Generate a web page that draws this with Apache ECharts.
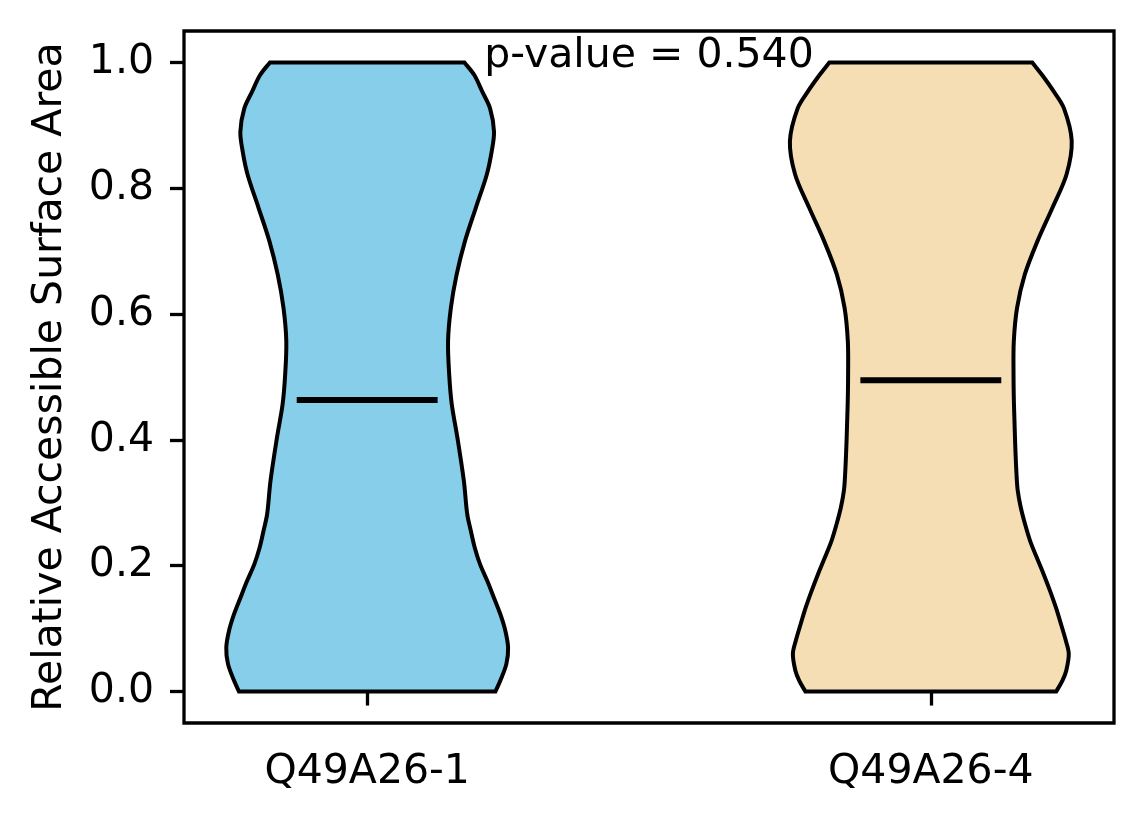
<!DOCTYPE html>
<html lang="en">
<head>
<meta charset="UTF-8">
<title>Relative Accessible Surface Area</title>
<script src="https://cdn.jsdelivr.net/npm/echarts@6.0.0/dist/echarts.min.js"></script>
<style>
    html, body { margin: 0; background: #fff; }
    #main { width: 1144px; height: 824px; }
</style>
</head>
<body>
<div id="main"></div>
<script>
// groups on the x axis
var categories = ['Q49A26-1', 'Q49A26-4'];
var positions = [1, 2];
var medians = [0.4635, 0.495];
var pValue = 0.540;
var yTicks = [0, 0.2, 0.4, 0.6, 0.8, 1.0];

// violin outlines: y value and relative density (1 = widest)
var leftY = [0.0, 0.0175, 0.044, 0.070, 0.097, 0.123, 0.150, 0.176, 0.203, 0.229, 0.256, 0.282, 0.335,
    0.404, 0.457, 0.504, 0.557, 0.610, 0.663, 0.716, 0.769, 0.822, 0.859, 0.890, 0.927, 0.954, 0.980, 1.0];
var leftDensity = [0.91, 0.945, 0.988, 1.0, 0.98, 0.945, 0.898, 0.852, 0.80, 0.763, 0.735, 0.71, 0.686,
    0.64, 0.60, 0.582, 0.574, 0.594, 0.635, 0.694, 0.771, 0.849, 0.884, 0.90, 0.872, 0.816, 0.76, 0.69];
var rightY = [0.0, 0.0175, 0.033, 0.06, 0.081, 0.107, 0.134, 0.160, 0.187, 0.213, 0.240, 0.266, 0.293,
    0.319, 0.346, 0.398, 0.457, 0.504, 0.557, 0.610, 0.663, 0.716, 0.769, 0.822, 0.875, 0.927, 0.954, 0.980, 1.0];
var rightDensity = [0.89, 0.934, 0.961, 0.979, 0.958, 0.924, 0.887, 0.846, 0.80, 0.752, 0.704, 0.669, 0.638,
    0.617, 0.608, 0.598, 0.59, 0.587, 0.589, 0.612, 0.667, 0.757, 0.863, 0.963, 1.0, 0.945, 0.872, 0.79, 0.72];

var violins = [{y: leftY, d: leftDensity}, {y: rightY, d: rightDensity}];
var fills = ['#87CEEB', '#F5DEB3'];
var halfWidth = 0.25;   // widths = 0.5
var FONT = 'DejaVu Sans';

// smooth curve through pixel points, x treated as a function of y (cubic hermite -> bezier)
function curveThrough(pts) {
    var n = pts.length, m = [], s = '';
    for (var i = 0; i < n; i++) {
        var a = pts[Math.max(i - 1, 0)], b = pts[Math.min(i + 1, n - 1)];
        m.push((b[0] - a[0]) / (b[1] - a[1]));
    }
    for (var j = 0; j < n - 1; j++) {
        var h = (pts[j + 1][1] - pts[j][1]) / 3;
        s += ' C' + (pts[j][0] + m[j] * h) + ',' + (pts[j][1] + h) + ' ' +
            (pts[j + 1][0] - m[j + 1] * h) + ',' + (pts[j + 1][1] - h) + ' ' +
            pts[j + 1][0] + ',' + pts[j + 1][1];
    }
    return s;
}

function renderViolin(params, api) {
    var pos = api.value(0);
    var i = api.value(2);
    var v = violins[i];
    var leftPts = [], rightPts = [];
    for (var k = 0; k < v.y.length; k++) {
        leftPts.push(api.coord([pos - v.d[k] * halfWidth, v.y[k]]));
        rightPts.push(api.coord([pos + v.d[k] * halfWidth, v.y[k]]));
    }
    var n = leftPts.length - 1;
    var rightDown = rightPts.slice().reverse();
    var d = 'M' + leftPts[0][0] + ',' + leftPts[0][1] + curveThrough(leftPts) +
        ' L' + rightDown[0][0] + ',' + rightDown[0][1] + curveThrough(rightDown) + ' Z';
    var ml = api.coord([pos - halfWidth / 2, medians[i]]);
    var mr = api.coord([pos + halfWidth / 2, medians[i]]);
    return {
        type: 'group',
        children: [
            {type: 'path', shape: {pathData: d},
                style: {fill: fills[i], stroke: '#000', lineWidth: 4, lineJoin: 'miter'}},
            {type: 'line', shape: {x1: ml[0], y1: ml[1], x2: mr[0], y2: mr[1]},
                style: {stroke: '#000', lineWidth: 6}}
        ]
    };
}

var chart = echarts.init(document.getElementById('main'));
chart.setOption({
    animation: false,
    backgroundColor: '#fff',
    grid: {
        left: 184, right: 30, top: 31, bottom: 101,
        show: true, borderColor: '#000', borderWidth: 3.3,
        outerBoundsMode: 'none'
    },
    xAxis: {
        type: 'value', min: 0.675, max: 2.325,
        axisLine: {show: false},
        splitLine: {show: false},
        axisTick: {customValues: positions, length: 14, lineStyle: {color: '#000', width: 3.3}},
        axisLabel: {
            customValues: positions,
            formatter: function (v) { return categories[positions.indexOf(v)]; },
            fontSize: 41, fontFamily: FONT, color: '#000', margin: 29
        }
    },
    yAxis: {
        type: 'value', min: -0.05, max: 1.05,
        name: 'Relative Accessible Surface Area',
        nameLocation: 'middle', nameGap: 113,
        nameTextStyle: {fontSize: 41, fontFamily: FONT, color: '#000'},
        axisLine: {show: false},
        splitLine: {show: false},
        axisTick: {customValues: yTicks, length: 14, lineStyle: {color: '#000', width: 3.3}},
        axisLabel: {
            customValues: yTicks,
            formatter: function (v) { return v.toFixed(1); },
            fontSize: 41, fontFamily: FONT, color: '#000', margin: 30,
            padding: [6, 0, 0, 0]
        }
    },
    series: [{
        type: 'custom',
        renderItem: renderViolin,
        encode: {x: 0, y: 1},
        data: positions.map(function (p, i) { return [p, medians[i], i]; })
    }, {
        type: 'custom',
        z: 5,
        renderItem: function (params, api) {
            var pt = api.coord([api.value(0), api.value(1)]);
            return {
                type: 'text', x: pt[0], y: pt[1] - 6,
                style: {
                    text: 'p-value = ' + pValue.toFixed(3),
                    fontSize: 41, fontFamily: FONT, fill: '#000',
                    align: 'center', verticalAlign: 'middle'
                }
            };
        },
        data: [[(positions[0] + positions[1]) / 2, 1.0]]
    }]
});
</script>
</body>
</html>
